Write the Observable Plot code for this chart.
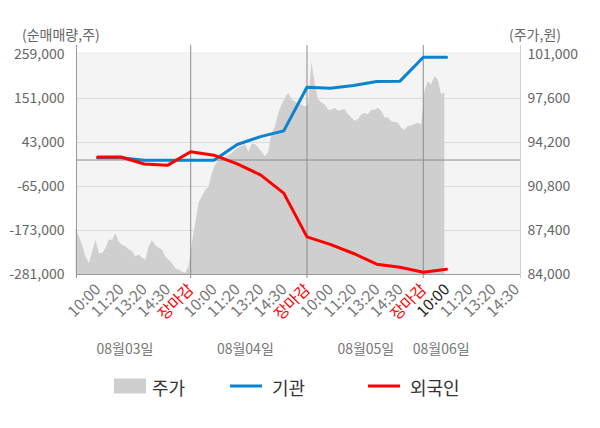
<!DOCTYPE html>
<html>
<head>
<meta charset="utf-8">
<script src="https://cdn.jsdelivr.net/npm/d3@7"></script>
<script src="https://cdn.jsdelivr.net/npm/@observablehq/plot@0.6"></script>
<style>
  html, body { margin: 0; padding: 0; background: #fff; }
  #chart svg { display: block; }
</style>
</head>
<body>
<div id="chart"></div>
<script>
// ---- data ----
const tickLabels = ["10:00", "11:20", "13:20", "14:30", "장마감",
                    "10:00", "11:20", "13:20", "14:30", "장마감",
                    "10:00", "11:20", "13:20", "14:30", "장마감",
                    "10:00", "11:20", "13:20", "14:30"];
const dateLabels = ["08월03일", "08월04일", "08월05일", "08월06일"];
const dateLabelPos = [2.17, 7.35, 12.53, 15.77];
const leftTicks = [259000, 151000, 43000, -65000, -173000, -281000];
const rightTicks = [101000, 97600, 94200, 90800, 87400, 84000];

// 기관 / 외국인 cumulative net buying (shares), one value per tick (10:00 day1 .. 10:00 day4)
const institution = [5800, 5800, -300, -300, -300, -300, 38200, 57400, 71500,
                     178600, 176400, 182900, 192800, 193600, 252300, 252300];
const foreigner = [7500, 7500, -9800, -13100, 20300, 11800, -9600, -36400, -81200,
                   -188700, -207200, -229400, -255800, -263100, -275400, -268100];

// 주가 intraday prices (won), sampled evenly through each session
const priceDay1 = [87550, 86900, 86250, 85350, 84850, 85750, 86650, 85600, 85600, 86000,
                   86650, 86650, 87150, 86500, 86250, 86150, 85900, 85750, 85350, 85500,
                   85250, 85100, 86150, 86600, 86250, 86000, 85900, 85350, 85100, 84850,
                   84450, 84350, 84200, 84100, 84600];
const priceDay2 = [86400, 87950, 89500, 90000, 90500, 90750, 91800, 92450, 92800, 92900,
                   93050, 93150, 93350, 93600, 93800, 93900, 94050, 93450, 94100, 94050,
                   93750, 93450, 93100, 93450, 94900, 95400, 96450, 97100, 97600, 98000,
                   97500, 97350, 97150, 97100, 96950];
const priceDay3 = [97100, 100400, 98650, 97500, 97250, 97100, 96700, 96700, 96850, 96600,
                   96700, 96750, 96350, 96100, 95850, 95950, 96350, 96450, 96350, 96700,
                   96700, 96850, 96600, 96100, 96100, 95800, 95750, 95700, 95300, 95150,
                   95450, 95450, 95600, 95700, 95550];
const priceDay4 = [98150, 98900, 98650, 99300, 99050, 97900, 98000];

// ---- derived tables ----
const SLOTS = 7; // samples per tick interval
const priceRows = [];
[priceDay1, priceDay2, priceDay3, priceDay4].forEach((arr, d) => {
  arr.forEach((p, i) => priceRows.push({t: d * 5 + (i + 0.5) / SLOTS, price: p}));
});
const instRows = institution.map((v, i) => ({t: i + 1, v}));
const forRows = foreigner.map((v, i) => ({t: i + 1, v}));
const tickRows = tickLabels.map((label, i) => ({t: i + 1, label}));
const dateRows = dateLabels.map((label, i) => ({t: dateLabelPos[i], label}));

const yMin = leftTicks[leftTicks.length - 1], yMax = leftTicks[0];
const pMin = rightTicks[rightTicks.length - 1], pMax = rightTicks[0];
const toLeft = p => yMin + (p - pMin) * (yMax - yMin) / (pMax - pMin);
const fmt = v => v.toLocaleString("en-US");

const xDomain = [0.09, 19.18];
const FONT = "'Noto Sans CJK KR', 'Noto Sans', sans-serif";

const chart = Plot.plot({
  width: 600,
  height: 428,
  marginLeft: 76,
  marginRight: 80,
  marginTop: 54,
  marginBottom: 154,
  x: {domain: xDomain, axis: null},
  y: {domain: [yMin, yMax], axis: null},
  style: {fontFamily: FONT, background: "#ffffff", overflow: "visible"},
  marks: [
    Plot.frame({fill: "#f4f4f4", stroke: null, insetTop: -2.5}),
    Plot.ruleY(leftTicks.slice(1, -1), {stroke: "#dcdcdc", strokeWidth: 1}),
    Plot.areaY(priceRows, {x: "t", y1: () => yMin, y2: d => toLeft(d.price), fill: "#cfcfcf", curve: "linear"}),
    Plot.ruleY([0], {stroke: "#8c8c8c", strokeWidth: 1}),
    Plot.ruleX([5, 10, 15], {stroke: "#8c8c8c", strokeWidth: 1, insetTop: -9, insetBottom: -4}),
    Plot.ruleX([xDomain[0]], {stroke: "#9a9a9a", strokeWidth: 1, insetTop: -9, insetBottom: -4}),
    Plot.ruleX([xDomain[1]], {stroke: "#d0d0d0", strokeWidth: 1, insetTop: -9, insetBottom: -4}),
    Plot.ruleY([yMin], {stroke: "#9a9a9a", strokeWidth: 1}),
    Plot.line(instRows, {x: "t", y: "v", stroke: "#0a83d0", strokeWidth: 3}),
    Plot.line(forRows, {x: "t", y: "v", stroke: "#ff0000", strokeWidth: 3}),
    Plot.text(leftTicks, {y: d => d, text: fmt, frameAnchor: "left", textAnchor: "end", dx: -12,
      fill: "#666", fontSize: 14}),
    Plot.text(rightTicks, {y: d => toLeft(d), text: fmt, frameAnchor: "right", textAnchor: "start", dx: 7,
      fill: "#666", fontSize: 14}),
    Plot.text(tickRows, {x: "t", text: "label", frameAnchor: "bottom", rotate: -45, textAnchor: "end",
      dx: 4, dy: 16, fontSize: 15.5,
      fill: d => d.label === "장마감" ? "#ff0000" : (d.t === 16 ? "#222" : "#777")}),
    Plot.text(dateRows, {x: "t", text: "label", frameAnchor: "bottom", dy: 79, fontSize: 14, fill: "#777"})
  ]
});

document.getElementById("chart").appendChild(chart);

// titles and legend
const svg = d3.select(chart);
svg.append("text").attr("x", 22).attr("y", 34).attr("dominant-baseline", "central")
  .attr("text-anchor", "start")
  .attr("font-size", 14).attr("fill", "#666").attr("font-family", FONT).text("(순매매량,주)");
svg.append("text").attr("x", 509).attr("y", 34).attr("dominant-baseline", "central")
  .attr("text-anchor", "start")
  .attr("font-size", 14).attr("fill", "#666").attr("font-family", FONT).text("(주가,원)");

const legend = [
  {label: "주가", kind: "rect", color: "#cfcfcf", x: 114, tx: 152},
  {label: "기관", kind: "line", color: "#0a83d0", x: 230, tx: 272},
  {label: "외국인", kind: "line", color: "#ff0000", x: 368, tx: 410}
];
const lg = svg.append("g");
legend.forEach(it => {
  if (it.kind === "rect") {
    lg.append("rect").attr("x", it.x).attr("y", 378.5).attr("width", 32).attr("height", 15).attr("fill", it.color);
  } else {
    lg.append("line").attr("x1", it.x).attr("x2", it.x + 32).attr("y1", 386).attr("y2", 386)
      .attr("stroke", it.color).attr("stroke-width", 3);
  }
  lg.append("text").attr("x", it.tx).attr("y", 387).attr("dominant-baseline", "central")
    .attr("text-anchor", "start")
    .attr("font-size", 18).attr("fill", "#333").attr("font-family", FONT).text(it.label);
});
</script>
</body>
</html>
